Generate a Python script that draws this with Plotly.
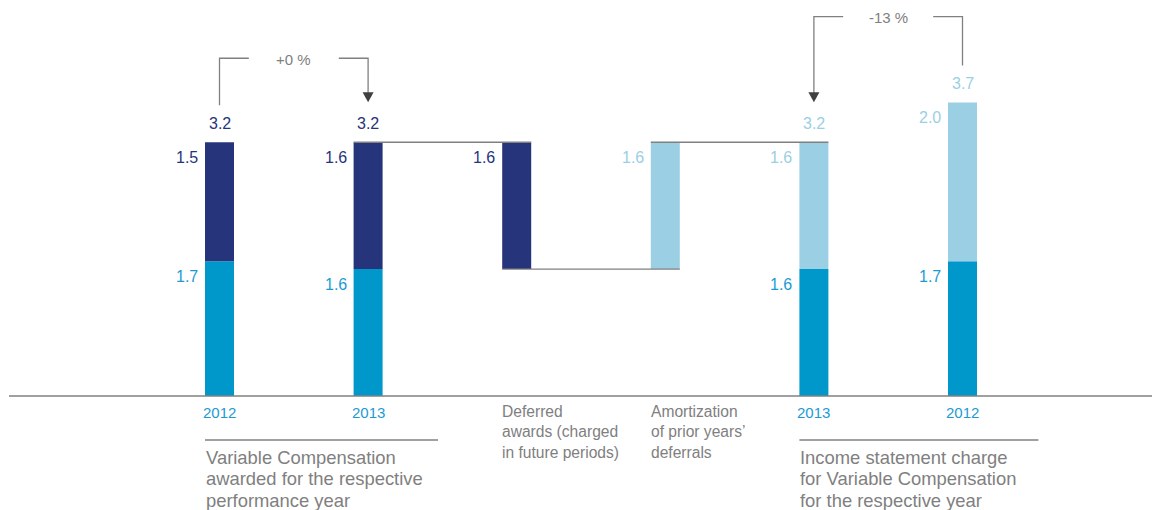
import plotly.graph_objects as go

# ---------------- data ----------------
categories = ["2012", "2013", "Deferred", "Amortization", "2013", "2012"]
cat_labels = ["2012", "2013",
              "Deferred<br>awards (charged<br>in future periods)",
              "Amortization<br>of prior years’<br>deferrals",
              "2013", "2012"]
current_part = [1.7, 1.6, 0, 0, 1.6, 1.7]      # medium blue
deferred_part = [1.5, 1.6, 1.6, 0, 0, 0]       # navy
amortized_part = [0, 0, 0, 1.6, 1.6, 2.0]      # light blue
totals = [3.2, 3.2, None, None, 3.2, 3.7]
changes = ["+0 %", "-13 %"]
group_left = ["Variable Compensation", "awarded for the respective", "performance year"]
group_right = ["Income statement charge", "for Variable Compensation", "for the respective year"]

# waterfall floating base for the deferral / amortization steps
wf_base = [0, 0, 0, 0, 0, 0]
wf_base[2] = current_part[1] + deferred_part[1] - deferred_part[2]
wf_base[3] = wf_base[2]

NAVY = "#26347B"
BLUE = "#0098CB"
LIGHT = "#9BCFE3"
GRAY = "#808080"
DARK = "#404040"
TXT_BLUE = "#1C9BD3"
FONT = "Liberation Sans, Arial, sans-serif"

OFF = 8  # page body margin
W, H = 1160 - OFF, 510 - OFF
x_unit_px = 148.6
x_first_px = 219.5 - OFF
y_unit_px = 79.3
y_base_px = 396 - OFF
X0 = -x_first_px / x_unit_px
X1 = X0 + W / x_unit_px
Y1 = y_base_px / y_unit_px
Y0 = -(H - y_base_px) / y_unit_px
BW = 29 / x_unit_px

def dx(px):
    return px / x_unit_px

def dy(px):
    return px / y_unit_px

xs = list(range(len(categories)))

fig = go.Figure()
fig.add_trace(go.Bar(x=xs, y=current_part, base=wf_base, width=BW,
                     marker=dict(color=BLUE, line=dict(width=0)), hoverinfo="skip"))
fig.add_trace(go.Bar(x=xs, y=deferred_part,
                     base=[wf_base[i] + current_part[i] for i in xs], width=BW,
                     marker=dict(color=NAVY, line=dict(width=0)), hoverinfo="skip"))
fig.add_trace(go.Bar(x=xs, y=amortized_part,
                     base=[wf_base[i] + current_part[i] + deferred_part[i] for i in xs], width=BW,
                     marker=dict(color=LIGHT, line=dict(width=0)), hoverinfo="skip"))

ann = []
shapes = []

# segment labels (left of the bar, at top of segment)
for i in xs:
    b = wf_base[i]
    segs = [(current_part[i], TXT_BLUE), (deferred_part[i], NAVY), (amortized_part[i], LIGHT)]
    for v, col in segs:
        if v:
            top = b + v
            ann.append(dict(x=i - BW / 2, y=top, xref="x", yref="y", text=f"{v:.1f}",
                            showarrow=False, xanchor="right", yanchor="middle",
                            xshift=-5, yshift=-15, font=dict(size=16, color=col, family=FONT)))
            b = top
    if totals[i] is not None:
        col = NAVY if i < 2 else LIGHT
        ann.append(dict(x=i, y=wf_base[i] + current_part[i] + deferred_part[i] + amortized_part[i],
                        xref="x", yref="y", text=f"{totals[i]:.1f}", showarrow=False,
                        xanchor="center", yanchor="middle", yshift=19,
                        font=dict(size=16, color=col, family=FONT)))

# category labels
for i in xs:
    if i in (2, 3):
        ann.append(dict(x=i - BW / 2, y=0, xref="x", yref="y", text=cat_labels[i], showarrow=False,
                        xanchor="left", yanchor="top", yshift=-5, xshift=-2, align="left",
                        font=dict(size=15.6, color=GRAY, family=FONT)))
    else:
        ann.append(dict(x=i, y=0, xref="x", yref="y", text=cat_labels[i], showarrow=False,
                        xanchor="center", yanchor="middle", yshift=-16,
                        font=dict(size=15, color=TXT_BLUE, family=FONT)))

# group labels with rule above
def group(i0, rule_px, lines):
    xl = i0 - BW / 2
    shapes.append(dict(type="line", xref="x", yref="y", x0=xl, x1=xl + dx(rule_px),
                       y0=-dy(44), y1=-dy(44), line=dict(color=GRAY, width=1.3)))
    for k, t in enumerate(lines):
        ann.append(dict(x=xl, y=-dy(61 + 21.7 * k), xref="x", yref="y", text=t, showarrow=False,
                        xanchor="left", yanchor="middle", xshift=-1,
                        font=dict(size=18.4, color=GRAY, family=FONT)))

group(0, 233, group_left)
group(4, 239, group_right)

# baseline
shapes.append(dict(type="line", xref="paper", yref="y", x0=1 / W, x1=1, y0=0, y1=0,
                   line=dict(color=GRAY, width=1.6)))

# waterfall connectors
top1 = current_part[1] + deferred_part[1]
shapes.append(dict(type="line", xref="x", yref="y", x0=1 - BW / 2, x1=2 + BW / 2, y0=top1, y1=top1,
                   line=dict(color=GRAY, width=1.3)))
shapes.append(dict(type="line", xref="x", yref="y", x0=2 - BW / 2, x1=3 + BW / 2,
                   y0=wf_base[2], y1=wf_base[2], line=dict(color=GRAY, width=1.3)))
top4 = current_part[4] + amortized_part[4]
shapes.append(dict(type="line", xref="x", yref="y", x0=3 - BW / 2, x1=4 + BW / 2, y0=top4, y1=top4,
                   line=dict(color=GRAY, width=1.3)))

# change brackets
def bracket(i_from, i_to, label, level):
    ta = totals[i_from]
    tb = totals[i_to]
    mid = (i_from + i_to) / 2
    gap = dx(45)
    s = 1 if i_from < i_to else -1
    shapes.append(dict(type="path", xref="x", yref="y",
                       path=f"M {i_from},{ta + dy(37)} L {i_from},{level} L {mid - s * gap},{level}",
                       line=dict(color=GRAY, width=1.3)))
    tip = tb + dy(40)
    shapes.append(dict(type="path", xref="x", yref="y",
                       path=f"M {mid + s * gap},{level} L {i_to},{level} L {i_to},{tip + dy(9)}",
                       line=dict(color=GRAY, width=1.3)))
    shapes.append(dict(type="path", xref="x", yref="y",
                       path=f"M {i_to - dx(5.5)},{tip + dy(10)} L {i_to + dx(5.5)},{tip + dy(10)} L {i_to},{tip} Z",
                       fillcolor=DARK, line=dict(color=DARK, width=0)))
    ann.append(dict(x=mid, y=level, xref="x", yref="y", text=label, showarrow=False,
                    xanchor="center", yanchor="middle", yshift=-1,
                    font=dict(size=15, color=GRAY, family=FONT)))

bracket(0, 1, changes[0], totals[0] + dy(84))
bracket(5, 4, changes[1], totals[5] + dy(86))

fig.update_layout(
    width=W, height=H,
    margin=dict(l=0, r=0, t=0, b=0),
    paper_bgcolor="white", plot_bgcolor="white",
    barmode="overlay", showlegend=False,
    xaxis=dict(range=[X0, X1], visible=False, fixedrange=True),
    yaxis=dict(range=[Y0, Y1], visible=False, fixedrange=True),
    annotations=ann, shapes=shapes,
)

fig.write_html("out.html")
